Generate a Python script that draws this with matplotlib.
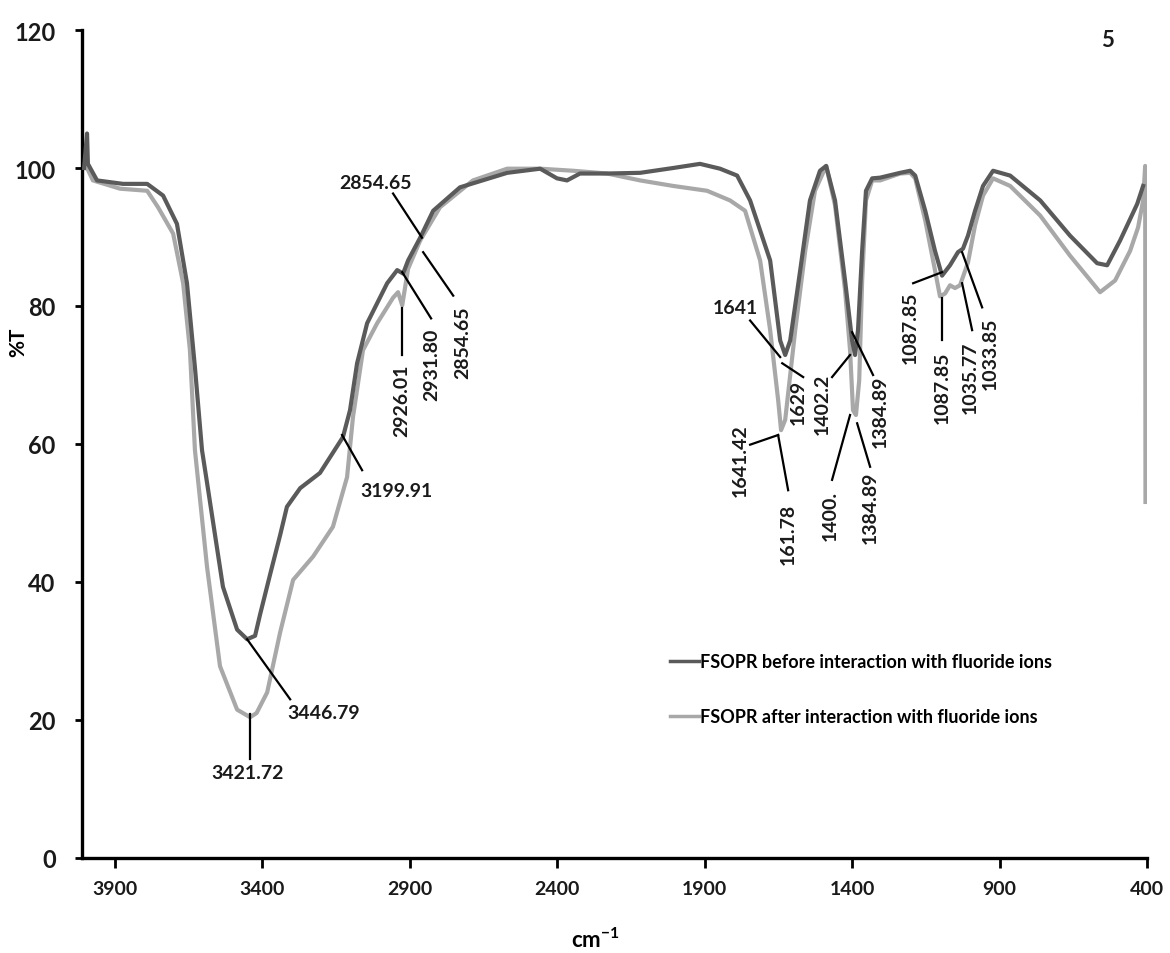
import numpy as np
import matplotlib
matplotlib.use('Agg')
import matplotlib.pyplot as plt

plt.rcParams['font.family'] = ['Lato', 'DejaVu Sans']
plt.rcParams['font.weight'] = 'bold'
plt.rcParams['mathtext.fontset'] = 'custom'
plt.rcParams['mathtext.rm'] = 'Lato:bold'
plt.rcParams['mathtext.default'] = 'rm'

# FTIR spectra: wavenumber (cm-1) vs %T
wn_before = [4005, 3995, 3992, 3961, 3873, 3791, 3737, 3690, 3656, 3629, 3605, 3588,
             3534, 3486, 3452, 3425, 3408, 3374, 3340, 3317, 3272, 3205, 3127, 3103,
             3079, 3045, 2977, 2943, 2923, 2906, 2865, 2821, 2730, 2570, 2458, 2401,
             2367, 2323, 2231, 2119, 2007, 1916, 1848, 1790, 1746, 1678, 1644, 1627,
             1610, 1576, 1543, 1509, 1488, 1458, 1424, 1400, 1390, 1380, 1366, 1353,
             1332, 1305, 1237, 1203, 1186, 1152, 1119, 1095, 1068, 1041, 1024, 1007,
             983, 956, 922, 864, 762, 661, 569, 535, 491, 433, 413]
t_before = [100.0, 105.0, 100.6, 98.2, 97.7, 97.7, 96.0, 91.9, 83.3, 71.1, 59.1, 54.4,
            39.3, 33.1, 31.7, 32.2, 35.3, 41.1, 46.8, 50.9, 53.6, 55.8, 61.0, 64.9,
            71.7, 77.5, 83.3, 85.2, 84.7, 86.6, 89.9, 93.8, 97.2, 99.3, 99.9, 98.5,
            98.2, 99.2, 99.2, 99.3, 100.0, 100.6, 99.9, 98.9, 95.3, 86.6, 75.0, 72.9,
            75.0, 85.2, 95.3, 99.6, 100.3, 95.3, 83.7, 75.0, 72.9, 76.5, 88.0, 96.7,
            98.5, 98.6, 99.3, 99.6, 98.9, 93.8, 88.0, 84.4, 85.9, 87.8, 88.3, 90.2,
            93.8, 97.4, 99.6, 98.9, 95.3, 90.2, 86.2, 85.9, 89.5, 94.8, 97.4]

wn_after = [4005, 3995, 3975, 3883, 3791, 3754, 3703, 3669, 3646, 3629, 3588, 3544,
            3486, 3442, 3420, 3384, 3340, 3296, 3228, 3161, 3113, 3093, 3059, 3011,
            2957, 2940, 2926, 2906, 2865, 2798, 2686, 2570, 2458, 2346, 2231, 2119,
            2007, 1892, 1814, 1763, 1712, 1678, 1651, 1641, 1627, 1593, 1559, 1526,
            1488, 1458, 1424, 1407, 1397, 1387, 1376, 1366, 1353, 1332, 1305, 1237,
            1203, 1186, 1152, 1119, 1102, 1085, 1068, 1051, 1034, 1007, 983, 956,
            922, 864, 762, 661, 559, 508, 457, 430, 413, 406, 405]
t_after = [100.3, 100.0, 98.2, 97.0, 96.7, 94.3, 90.5, 83.3, 73.6, 59.1, 42.2, 27.8,
           21.5, 20.4, 21.0, 24.0, 32.7, 40.3, 43.7, 48.0, 55.2, 63.9, 73.6, 77.5,
           81.2, 82.0, 80.1, 85.4, 89.5, 94.3, 98.2, 99.9, 99.9, 99.6, 99.2, 98.2,
           97.4, 96.7, 95.3, 93.8, 86.6, 76.5, 66.4, 62.0, 63.5, 76.5, 88.0, 96.7,
           100.3, 94.6, 82.3, 73.6, 64.9, 64.2, 69.2, 83.7, 95.3, 98.2, 98.2, 99.2,
           99.3, 98.5, 92.4, 85.2, 81.4, 81.8, 83.0, 82.6, 83.0, 86.3, 91.7, 96.0,
           98.5, 97.4, 93.1, 87.3, 82.0, 83.7, 88.0, 91.4, 95.3, 100.3, 51.6]

legend_labels = ['FSOPR before interaction with fluoride ions',
                 'FSOPR after interaction with fluoride ions']
x_ticks = [3900, 3400, 2900, 2400, 1900, 1400, 900, 400]
y_ticks = [0, 20, 40, 60, 80, 100, 120]

# peak labels: text, leader start, leader end, text anchor, rotation, vertical align
peak_labels = [
    ('2854.65', (2957, 96.3), (2859, 89.9), (3018, 97.9), 0, 'center'),
    ('2931.80', (2926, 84.9), (2828, 78.2), (2825, 76.9), 90, 'top'),
    ('2854.65', (2855, 87.8), (2753, 81.5), (2720, 80.1), 90, 'top'),
    ('2926.01', (2926, 79.7), (2926, 72.9), (2926, 71.7), 90, 'top'),
    ('3199.91', (3130, 61.3), (3062, 56.2), (2947, 53.3), 0, 'center'),
    ('3446.79', (3452, 31.7), (3306, 23.0), (3194, 21.1), 0, 'center'),
    ('3421.72', (3442, 20.8), (3442, 14.3), (3449, 12.4), 0, 'center'),
    ('1641', (1644, 72.6), (1746, 77.9), (1797, 79.8), 0, 'center'),
    ('1629', (1637, 71.7), (1566, 69.7), (1583, 69.5), 90, 'top'),
    ('1641.42', (1651, 61.3), (1746, 59.9), (1780, 57.7), 90, 'center'),
    ('161.78', (1651, 61.3), (1617, 53.3), (1617, 51.5), 90, 'top'),
    ('1402.2', (1407, 72.9), (1468, 69.7), (1502, 65.9), 90, 'center'),
    ('1384.89', (1400, 76.2), (1329, 70.0), (1305, 70.0), 90, 'top'),
    ('1400.', (1407, 64.2), (1468, 54.8), (1475, 53.3), 90, 'top'),
    ('1384.89', (1383, 63.0), (1339, 56.7), (1339, 56.2), 90, 'top'),
    ('1087.85', (1095, 84.9), (1193, 83.3), (1203, 82.3), 90, 'top'),
    ('1087.85', (1095, 81.1), (1095, 75.0), (1095, 73.6), 90, 'top'),
    ('1035.77', (1027, 83.3), (993, 76.5), (1000, 75.0), 90, 'top'),
    ('1033.85', (1027, 87.8), (959, 79.8), (932, 78.4), 90, 'top'),
]

fig = plt.figure(figsize=(11.7, 9.54), dpi=100)
ax = fig.add_axes([0.0701, 0.0996, 0.9102, 0.8679])

ax.plot(wn_before, t_before, color='#5a5a5a', lw=3.0, label=legend_labels[0], zorder=3)
ax.plot(wn_after, t_after, color='#a8a8a8', lw=3.0, label=legend_labels[1], zorder=2)

for txt, p0, p1, pt, rot, va in peak_labels:
    ax.plot([p0[0], p1[0]], [p0[1], p1[1]], color='black', lw=1.6, zorder=4)
    ax.text(pt[0], pt[1], txt, rotation=rot, ha='center', va=va,
            fontsize=14, fontweight='bold', color='#1a1a1a', zorder=5)

ax.set_xlim(4012, 400)
ax.set_ylim(0, 120)
ax.set_xticks(x_ticks)
ax.set_yticks(y_ticks)
ax.tick_params(axis='y', direction='out', length=5, width=2, pad=14, labelsize=17)
ax.tick_params(axis='x', direction='out', length=7, width=2, pad=9, labelsize=14)
for lab in ax.get_xticklabels() + ax.get_yticklabels():
    lab.set_fontweight('bold')
    lab.set_color('#1a1a1a')

for side in ['top', 'right']:
    ax.spines[side].set_visible(False)
for side in ['left', 'bottom']:
    ax.spines[side].set_linewidth(2.4)

ax.set_xlabel('cm$^{-1}$', fontsize=16, fontweight='bold', va='center')
ax.xaxis.set_label_coords(0.482, -0.098)
ax.set_ylabel('%T', fontsize=15, fontweight='bold', va='center')
ax.yaxis.set_label_coords(-0.060, 0.624)

ax.text(0.963, 0.989, '5', transform=ax.transAxes, ha='center', va='center',
        fontsize=16, fontweight='bold', color='#1a1a1a')

leg = ax.legend(loc='upper left', bbox_to_anchor=(0.545, 0.256), frameon=False,
                fontsize=13, handlelength=1.6, handletextpad=0.1, labelspacing=2.1,
                borderaxespad=0)
for h in leg.get_lines():
    h.set_linewidth(2.5)

fig.savefig('out.png', dpi=100)
